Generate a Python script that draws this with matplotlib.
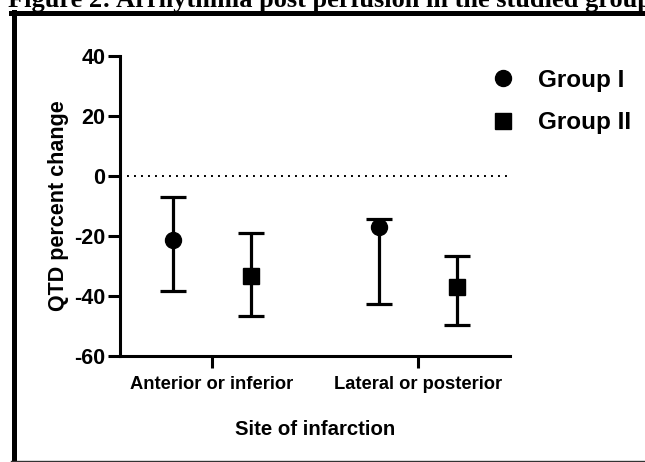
import matplotlib
matplotlib.use("Agg")
import matplotlib.pyplot as plt
from matplotlib.lines import Line2D
import numpy as np

plt.rcParams["axes.unicode_minus"] = False

# data
sites = ["Anterior or inferior", "Lateral or posterior"]
groups = ["Group I", "Group II"]
markers = ["o", "s"]
mean_g1 = [-21.3, -16.9]
low_g1 = [-38.4, -42.8]
high_g1 = [-7.1, -14.4]
mean_g2 = [-33.2, -36.9]
low_g2 = [-46.7, -49.7]
high_g2 = [-19.0, -26.8]
yticks = [-60, -40, -20, 0, 20, 40]

W, H = 645, 462
DPI = 100
fig = plt.figure(figsize=(W / DPI, H / DPI), dpi=DPI)
fig.patch.set_facecolor("white")

# axes box in pixels: x 120..510, y 56..356 (from top)
ax = fig.add_axes([120 / W, (H - 356) / H, 390 / W, 300 / H])

x = np.arange(len(sites))
off = 0.19
series = [(mean_g1, low_g1, high_g1), (mean_g2, low_g2, high_g2)]
for i, (m, lo, hi) in enumerate(series):
    m = np.array(m)
    yerr = [m - np.array(lo), np.array(hi) - m]
    ax.errorbar(x + (i * 2 - 1) * off, m, yerr=yerr, fmt=markers[i],
                color="black", markersize=11.5, elinewidth=2.3, capsize=9.5,
                capthick=2.3, zorder=3)

ax.axhline(0, color="black", lw=1.4, ls=(0, (1, 2.6)), zorder=1)

ax.set_xlim(-0.447, 1.447)
ax.set_ylim(-60, 40)
ax.set_yticks(yticks)
ax.set_xticks(x)
ax.set_xticklabels(sites)
for s in ["top", "right"]:
    ax.spines[s].set_visible(False)
for s in ["left", "bottom"]:
    ax.spines[s].set_linewidth(2.2)
ax.tick_params(axis="both", width=2.2, length=8.5, color="black")
ax.tick_params(axis="y", labelsize=15.5, pad=2)
ax.tick_params(axis="x", labelsize=13.2, pad=6)
for lab in ax.get_xticklabels() + ax.get_yticklabels():
    lab.set_fontweight("bold")
    lab.set_family("Liberation Sans")

ax.set_ylabel("QTD percent change", fontsize=15.5, fontweight="bold",
              family="Liberation Sans", labelpad=4)
ax.set_xlabel("Site of infarction", fontsize=14.7, fontweight="bold",
              family="Liberation Sans", labelpad=19)

handles = [Line2D([], [], ls="none", marker=mk, color="black", markersize=11.5)
           for mk in markers]
leg = ax.legend(handles, groups, loc="upper left",
                bbox_to_anchor=(469 / W, 1 - 47 / H),
                bbox_transform=fig.transFigure, frameon=False,
                prop={"family": "Liberation Sans", "weight": "bold", "size": 17.5},
                handlelength=1.0, handletextpad=0.95, labelspacing=0.8,
                borderpad=0.4)

# page frame seen in the reference
def px(xp, yp):
    return xp / W, 1 - yp / H

fig.add_artist(Line2D([px(13.5, 0)[0]] * 2, [px(0, 12)[1], 0], color="black",
                      lw=3.6, transform=fig.transFigure))
fig.add_artist(Line2D([px(11, 0)[0], 1], [px(0, 12.5)[1]] * 2, color="black",
                      lw=3.6, transform=fig.transFigure))
fig.add_artist(Line2D([px(11, 0)[0], 1], [px(0, 460.5)[1]] * 2, color="#333333",
                      lw=1.0, transform=fig.transFigure))

fig.text(8 / W, 1 - 7 / H, "Figure 2: Arrhythmia post perfusion in the studied group",
         family="Liberation Serif", fontweight="bold", fontsize=19,
         ha="left", va="baseline")

fig.savefig("out.png", dpi=DPI)
